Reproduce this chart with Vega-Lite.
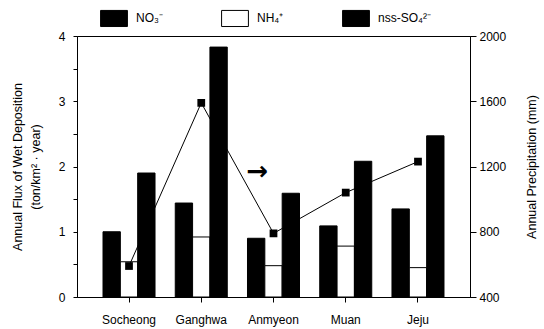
{
  "$schema": "https://vega.github.io/schema/vega-lite/v6.json",
  "autosize": "none",
  "width": 393,
  "height": 261,
  "padding": {"left": 77, "top": 36, "right": 74, "bottom": 32},
  "background": "white",
  "config": {
    "font": "Liberation Sans",
    "view": {"stroke": "black", "strokeWidth": 1},
    "axis": {
      "labelFont": "Liberation Sans",
      "labelFontSize": 12,
      "labelColor": "black",
      "titleFont": "Liberation Sans",
      "titleFontSize": 12.5,
      "titleFontWeight": "normal",
      "titleColor": "black",
      "domainColor": "black",
      "tickColor": "black",
      "grid": false
    },
    "legend": {
      "labelFont": "Liberation Sans",
      "labelFontSize": 12,
      "labelColor": "black"
    }
  },
  "datasets": {
    "flux": [
      {"site": "Socheong", "ion": "NO₃⁻", "value": 1.0},
      {"site": "Socheong", "ion": "NH₄⁺", "value": 0.54},
      {"site": "Socheong", "ion": "nss-SO₄²⁻", "value": 1.9},
      {"site": "Ganghwa", "ion": "NO₃⁻", "value": 1.44},
      {"site": "Ganghwa", "ion": "NH₄⁺", "value": 0.92},
      {"site": "Ganghwa", "ion": "nss-SO₄²⁻", "value": 3.83},
      {"site": "Anmyeon", "ion": "NO₃⁻", "value": 0.9},
      {"site": "Anmyeon", "ion": "NH₄⁺", "value": 0.48},
      {"site": "Anmyeon", "ion": "nss-SO₄²⁻", "value": 1.59},
      {"site": "Muan", "ion": "NO₃⁻", "value": 1.09},
      {"site": "Muan", "ion": "NH₄⁺", "value": 0.78},
      {"site": "Muan", "ion": "nss-SO₄²⁻", "value": 2.08},
      {"site": "Jeju", "ion": "NO₃⁻", "value": 1.35},
      {"site": "Jeju", "ion": "NH₄⁺", "value": 0.45},
      {"site": "Jeju", "ion": "nss-SO₄²⁻", "value": 2.47}
    ],
    "precip": [
      {"site": "Socheong", "precip": 590},
      {"site": "Ganghwa", "precip": 1590},
      {"site": "Anmyeon", "precip": 790},
      {"site": "Muan", "precip": 1040},
      {"site": "Jeju", "precip": 1230}
    ],
    "note": [
      {"site": "Anmyeon", "value": 1.92, "label": "→"}
    ]
  },
  "encoding": {
    "x": {
      "field": "site",
      "type": "nominal",
      "sort": ["Socheong", "Ganghwa", "Anmyeon", "Muan", "Jeju"],
      "scale": {"paddingInner": 0.28, "paddingOuter": 0.36},
      "axis": {"title": null, "labelAngle": 0, "tickSize": 5, "labelPadding": 12, "domain": true}
    }
  },
  "layer": [
    {
      "data": {"name": "flux"},
      "mark": {"type": "bar", "stroke": "black", "strokeWidth": 1},
      "encoding": {
        "xOffset": {"field": "ion", "type": "nominal", "sort": ["NO₃⁻", "NH₄⁺", "nss-SO₄²⁻"], "scale": {"paddingInner": 0, "paddingOuter": 0}},
        "y": {
          "field": "value",
          "type": "quantitative",
          "scale": {"domain": [0, 4], "nice": false},
          "axis": {
            "title": ["Annual Flux of Wet Deposition", "(ton/km² · year)"],
            "values": [0, 0.5, 1, 1.5, 2, 2.5, 3, 3.5, 4],
            "labelExpr": "datum.value % 1 === 0 ? format(datum.value, 'd') : ''",
            "tickSize": 4,
            "labelPadding": 8,
            "titlePadding": 16,
            "titleLineHeight": 18
          }
        },
        "fill": {
          "field": "ion",
          "type": "nominal",
          "sort": ["NO₃⁻", "NH₄⁺", "nss-SO₄²⁻"],
          "scale": {"domain": ["NO₃⁻", "NH₄⁺", "nss-SO₄²⁻"], "range": ["black", "white", "black"]},
          "legend": {
            "title": null,
            "orient": "none",
            "legendX": 23,
            "legendY": -32,
            "direction": "horizontal",
            "columns": 3,
            "gridAlign": "all",
            "columnPadding": 30,
            "symbolType": "M-1,-0.6H1V0.6H-1Z",
            "symbolSize": 720,
            "symbolStrokeColor": "black",
            "symbolStrokeWidth": 1,
            "symbolOpacity": 1,
            "labelOffset": 8
          }
        }
      }
    },
    {
      "data": {"name": "precip"},
      "mark": {"type": "line", "color": "black", "strokeWidth": 1, "point": {"shape": "square", "size": 60, "filled": true, "color": "black"}},
      "encoding": {
        "y": {
          "field": "precip",
          "type": "quantitative",
          "scale": {"domain": [400, 2000], "nice": false},
          "axis": {
            "orient": "right",
            "title": "Annual Precipitation (mm)",
            "titleAngle": 270,
            "values": [400, 800, 1200, 1600, 2000],
            "format": "d",
            "tickSize": 6,
            "labelPadding": 3,
            "titlePadding": 33
          }
        }
      }
    },
    {
      "data": {"name": "note"},
      "mark": {"type": "text", "fontSize": 26, "fontWeight": "bold", "dx": -16, "color": "black", "font": "DejaVu Sans"},
      "encoding": {
        "y": {"field": "value", "type": "quantitative", "scale": {"domain": [0, 4], "nice": false}, "axis": null},
        "text": {"field": "label"}
      }
    }
  ],
  "resolve": {"scale": {"y": "independent", "fill": "independent"}}
}
